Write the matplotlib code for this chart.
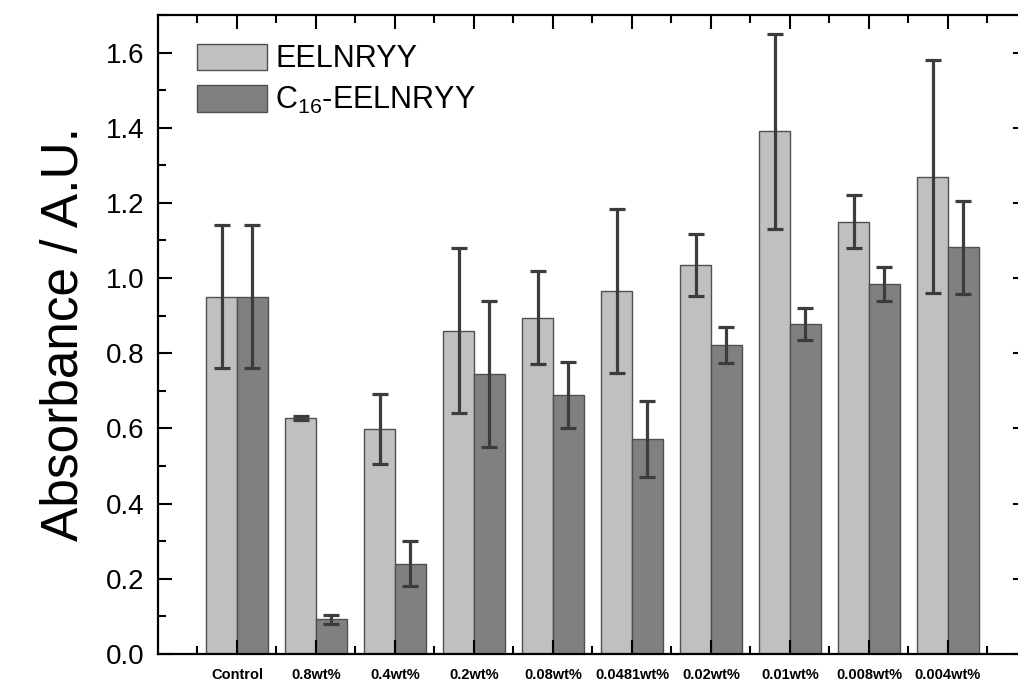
import matplotlib
matplotlib.use('Agg')
import matplotlib.pyplot as plt
from matplotlib.ticker import MultipleLocator
import numpy as np

plt.rcParams['font.family'] = ['Liberation Sans', 'DejaVu Sans']

groups = ['Control', '0.8wt%', '0.4wt%', '0.2wt%', '0.08wt%', '0.0481wt%',
          '0.02wt%', '0.01wt%', '0.008wt%', '0.004wt%']
pep = [0.95, 0.628, 0.598, 0.86, 0.895, 0.965, 1.035, 1.39, 1.15, 1.27]
pep_err = [0.19, 0.005, 0.093, 0.22, 0.123, 0.218, 0.083, 0.26, 0.07, 0.31]
c16 = [0.95, 0.093, 0.24, 0.745, 0.688, 0.572, 0.822, 0.877, 0.985, 1.082]
c16_err = [0.19, 0.012, 0.06, 0.195, 0.088, 0.10, 0.048, 0.043, 0.045, 0.124]

fig = plt.figure(figsize=(10.18, 6.82), dpi=100)
ax = fig.add_axes([0.1552, 0.0411, 0.8536, 0.937])

idx = np.arange(len(groups))
w = 0.39
err_kw = dict(ecolor='#3c3c3c', elinewidth=2.3, capsize=6, capthick=2.3)
ax.bar(idx - w/2, pep, w, yerr=pep_err, color='#c0c0c0', edgecolor='#505050',
       linewidth=1, label='EELNRYY', error_kw=err_kw)
ax.bar(idx + w/2, c16, w, yerr=c16_err, color='#808080', edgecolor='#505050',
       linewidth=1, label=r'$\mathregular{C_{16}}$-EELNRYY', error_kw=err_kw)

ax.set_xlim(-1, 10)
ax.set_ylim(0, 1.7)
ax.set_xticks(idx)
ax.set_xticklabels(groups, fontweight='bold', fontsize=10.5)
ax.xaxis.set_minor_locator(MultipleLocator(1, offset=0.5))
ax.yaxis.set_major_locator(MultipleLocator(0.2))
ax.yaxis.set_minor_locator(MultipleLocator(0.1))
ax.yaxis.set_major_formatter(plt.FormatStrFormatter('%.1f'))
ax.tick_params(which='both', direction='in', top=True, right=True, width=1.5)
ax.tick_params(which='major', length=10)
ax.tick_params(which='minor', length=6)
ax.tick_params(axis='y', labelsize=20, pad=10)
ax.tick_params(axis='x', pad=10)
for s in ax.spines.values():
    s.set_linewidth(1.6)

ax.set_ylabel('Absorbance / A.U.', fontsize=37, labelpad=12)

ax.legend(loc='upper left', bbox_to_anchor=(0.045, 0.955), frameon=False,
          fontsize=22, handlelength=2.3, handleheight=0.95,
          handletextpad=0.25, labelspacing=0.35, borderaxespad=0, borderpad=0)

fig.savefig('out.png', dpi=100)
